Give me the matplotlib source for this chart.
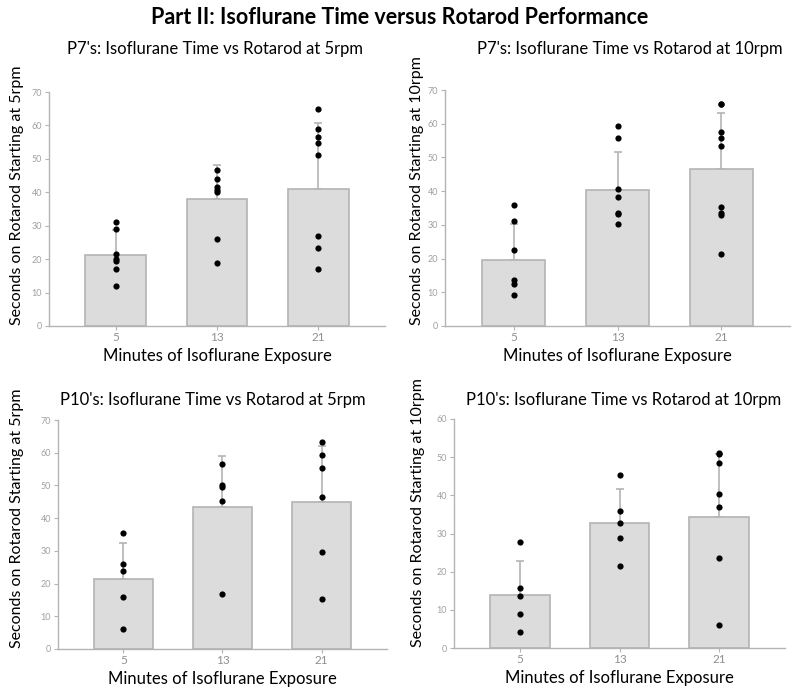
import matplotlib
matplotlib.use("Agg")
import matplotlib.pyplot as plt
import numpy as np

plt.rcParams['font.family'] = ['Lato', 'DejaVu Sans']

minutes = ['5', '13', '21']

# P7, 5 rpm
p7_5_means = [21.2, 37.9, 41.0]
p7_5_err = [7.6, 10.3, 19.8]
p7_5_pts = [[31.1, 29.1, 21.5, 20.0, 19.4, 17.1, 11.9],
            [46.7, 44.1, 41.7, 40.7, 40.0, 25.9, 18.7],
            [65.0, 59.0, 56.4, 54.7, 51.2, 26.8, 23.4, 17.2]]

# P7, 10 rpm
p7_10_means = [19.5, 40.4, 46.7]
p7_10_err = [10.8, 11.2, 16.4]
p7_10_pts = [[35.9, 31.1, 22.5, 13.5, 12.5, 9.3],
             [59.3, 55.7, 40.6, 38.4, 33.5, 33.3, 30.2],
             [65.9, 65.7, 57.6, 55.7, 53.4, 35.4, 33.4, 33.0, 21.3]]

# P10, 5 rpm
p10_5_means = [21.3, 43.5, 44.9]
p10_5_err = [11.2, 15.5, 17.0]
p10_5_pts = [[35.4, 26.1, 23.7, 15.9, 6.1],
             [56.6, 50.2, 49.6, 45.1, 16.7],
             [63.4, 59.3, 55.2, 46.6, 29.8, 15.4]]

# P10, 10 rpm
p10_10_means = [13.9, 32.7, 34.4]
p10_10_err = [9.0, 9.0, 16.5]
p10_10_pts = [[27.8, 15.7, 13.7, 8.8, 4.1],
              [45.4, 36.0, 32.7, 28.7, 21.5],
              [51.0, 50.8, 48.5, 40.4, 37.0, 23.7, 6.0]]

titles = ["P7's: Isoflurane Time vs Rotarod at 5rpm",
          "P7's: Isoflurane Time vs Rotarod at 10rpm",
          "P10's: Isoflurane Time vs Rotarod at 5rpm",
          "P10's: Isoflurane Time vs Rotarod at 10rpm"]
ylabels = ["Seconds on Rotarod Starting at 5rpm",
           "Seconds on Rotarod Starting at 10rpm",
           "Seconds on Rotarod Starting at 5rpm",
           "Seconds on Rotarod Starting at 10rpm"]
ymaxes = [70, 70, 70, 60]

W, H = 800, 698
# axes boxes in pixels: left, right, bottom, top
boxes = [(49, 385, 326, 92), (445, 790, 326, 90),
         (58, 387, 649, 420), (454, 785, 648, 419)]
title_xy = [(215, 49), (630, 49), (213, 400), (624, 400)]
ylabel_x = [17, 417, 17, 418]

grey = '#b4b4b4'
fig = plt.figure(figsize=(8, 6.98), dpi=100)
fig.text(0.5, 1 - 18 / H, "Part II: Isoflurane Time versus Rotarod Performance",
         ha='center', va='center', fontsize=15.5, fontweight='bold')

panels = [(p7_5_means, p7_5_err, p7_5_pts), (p7_10_means, p7_10_err, p7_10_pts),
          (p10_5_means, p10_5_err, p10_5_pts), (p10_10_means, p10_10_err, p10_10_pts)]

for i, (means, errs, pts) in enumerate(panels):
    l, r, b, t = boxes[i]
    ax = fig.add_axes([l / W, 1 - b / H, (r - l) / W, (b - t) / H])
    x = np.arange(len(minutes))
    ax.bar(x, means, width=0.6, color='#dcdcdc', edgecolor=grey, linewidth=1.2, zorder=2)
    ax.errorbar(x, means, yerr=[np.zeros(3), errs], fmt='none', ecolor=grey,
                elinewidth=1.2, capsize=3, capthick=1.2, zorder=1)
    for xi, vals in zip(x, pts):
        ax.scatter([xi] * len(vals), vals, s=20, color='black', zorder=3, linewidths=0)
    ax.set_xlim(-0.66, 2.66)
    ax.set_ylim(0, ymaxes[i])
    ax.set_yticks(np.arange(0, ymaxes[i] + 1, 10))
    ax.set_xticks(x)
    ax.set_xticklabels(minutes)
    for s in ['top', 'right']:
        ax.spines[s].set_visible(False)
    for s in ['left', 'bottom']:
        ax.spines[s].set_color(grey)
        ax.spines[s].set_linewidth(1.0)
    ax.tick_params(axis='y', colors=grey, labelsize=6.5, length=3, pad=2, labelcolor='#a0a0a0')
    ax.tick_params(axis='x', colors=grey, labelsize=8.5, length=3, pad=1, labelcolor='#909090')
    ax.set_xlabel("Minutes of Isoflurane Exposure", fontsize=12, labelpad=4)

    tx, ty = title_xy[i]
    fig.text(tx / W, 1 - ty / H, titles[i], ha='center', va='center', fontsize=12)
    fig.text(ylabel_x[i] / W, 1 - (b - 1) / H, ylabels[i], rotation=90,
             ha='center', va='bottom', fontsize=11.5)

fig.savefig('out.png', dpi=100)
